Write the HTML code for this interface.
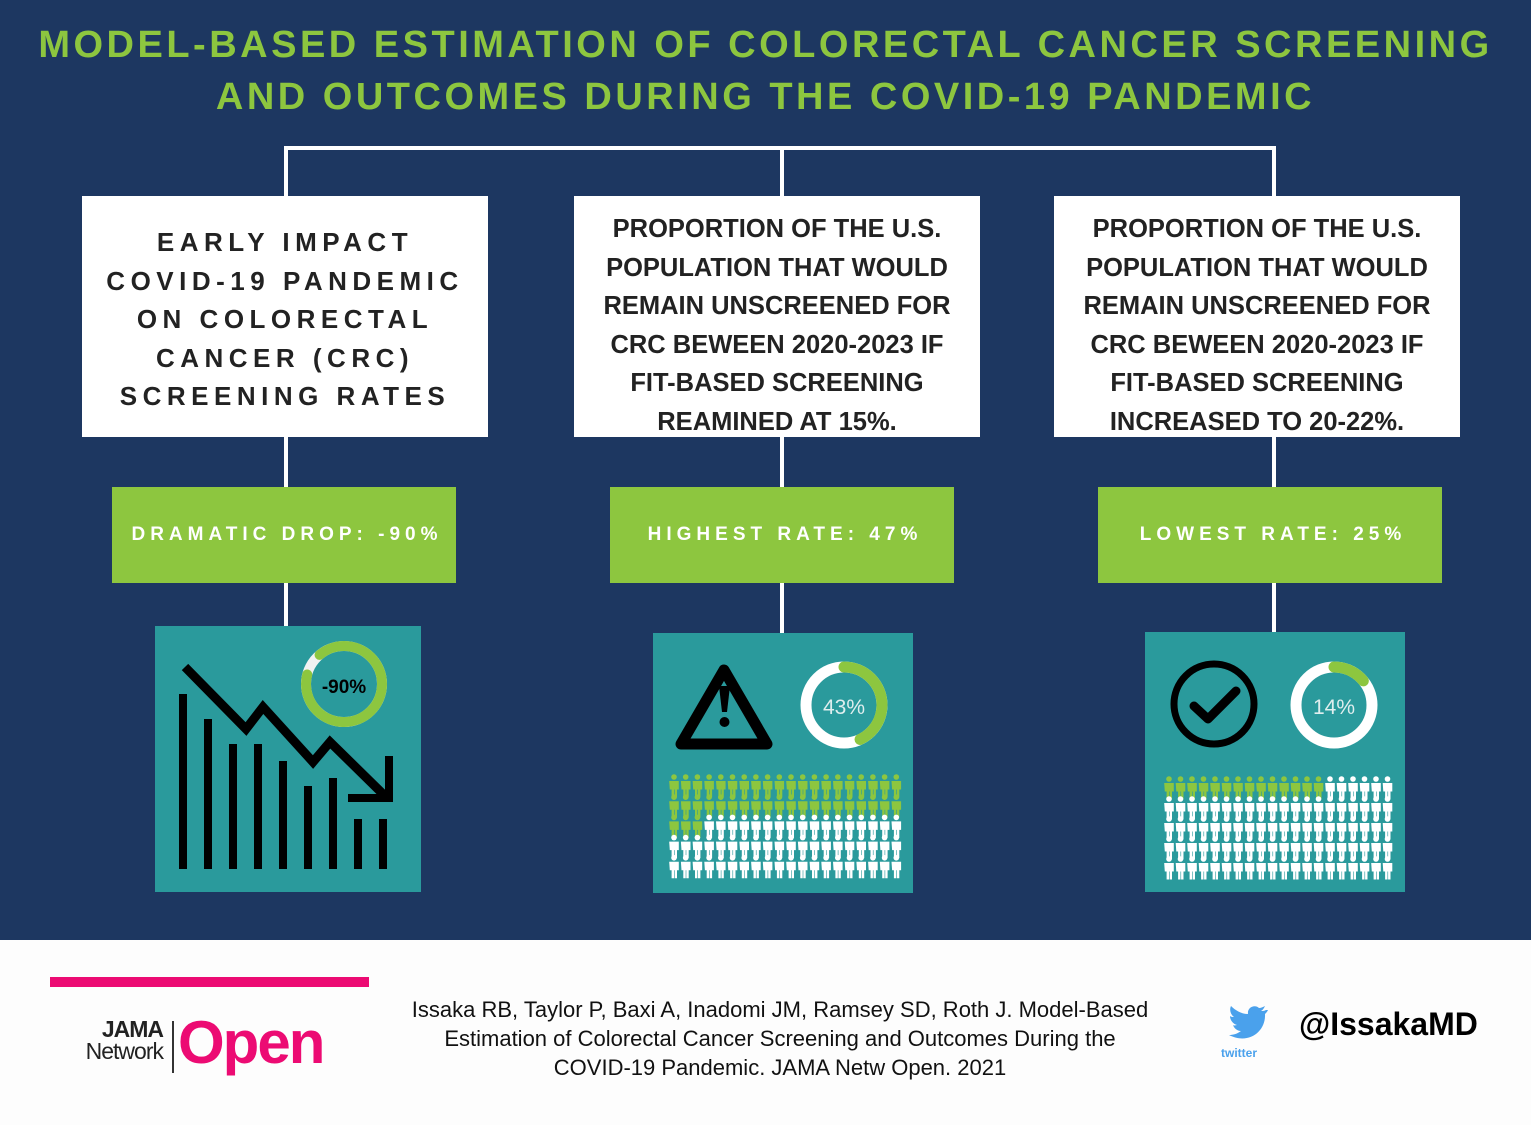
<!DOCTYPE html>
<html><head><meta charset="utf-8"><style>
body{margin:0;width:1531px;height:1125px;overflow:hidden;background:#1d3761;font-family:"Liberation Sans",sans-serif;position:relative}
.abs{position:absolute}
.title{left:0;width:1531px;text-align:center;color:#8dc63f;font-weight:bold;font-size:38px;letter-spacing:3.5px;line-height:52px;top:19px}
.line{background:#fff}
.wbox{background:#fff;color:#1d1d1d;text-align:center;display:flex;align-items:center;justify-content:center}
.gbox{background:#8dc63f;color:#fff;font-weight:bold;font-size:19px;letter-spacing:5px;display:flex;align-items:center;justify-content:center;padding-left:6px;box-sizing:border-box}
.panel{background:#2a9a9c}
.mbox{font-size:25.5px;font-weight:bold;line-height:38.5px;padding-top:14px;box-sizing:border-box;align-items:flex-start;color:#222}
</style></head><body>
<div class="abs title">MODEL-BASED ESTIMATION OF COLORECTAL CANCER SCREENING<br>AND OUTCOMES DURING THE COVID-19 PANDEMIC</div>

<div class="abs line" style="left:284px;top:146px;width:992px;height:4px"></div>
<div class="abs line" style="left:284px;top:146px;width:4px;height:480px"></div>
<div class="abs line" style="left:780px;top:146px;width:4px;height:487px"></div>
<div class="abs line" style="left:1272px;top:146px;width:4px;height:487px"></div>

<div class="abs wbox" style="left:82px;top:196px;width:406px;height:241px;font-size:26px;letter-spacing:5.5px;line-height:38.5px;font-weight:bold;color:#222;padding-top:6px;box-sizing:border-box"><div>EARLY IMPACT<br>COVID-19 PANDEMIC<br>ON COLORECTAL<br>CANCER (CRC)<br>SCREENING RATES</div></div>
<div class="abs wbox mbox" style="left:574px;top:196px;width:406px;height:241px"><div>PROPORTION OF THE U.S.<br>POPULATION THAT WOULD<br>REMAIN UNSCREENED FOR<br>CRC BEWEEN 2020-2023 IF<br>FIT-BASED SCREENING<br>REAMINED AT 15%.</div></div>
<div class="abs wbox mbox" style="left:1054px;top:196px;width:406px;height:241px"><div>PROPORTION OF THE U.S.<br>POPULATION THAT WOULD<br>REMAIN UNSCREENED FOR<br>CRC BEWEEN 2020-2023 IF<br>FIT-BASED SCREENING<br>INCREASED TO 20-22%.</div></div>

<div class="abs gbox" style="left:112px;top:487px;width:344px;height:96px">DRAMATIC DROP: -90%</div>
<div class="abs gbox" style="left:610px;top:487px;width:344px;height:96px">HIGHEST RATE: 47%</div>
<div class="abs gbox" style="left:1098px;top:487px;width:344px;height:96px">LOWEST RATE: 25%</div>

<div class="abs panel" style="left:155px;top:626px;width:266px;height:266px"></div>
<div class="abs panel" style="left:653px;top:633px;width:260px;height:260px"></div>
<div class="abs panel" style="left:1145px;top:632px;width:260px;height:260px"></div>

<svg class="abs" style="left:0;top:0" width="1531" height="940" id="icons">
<defs><g id="person"><circle cx="0" cy="-9" r="2.8"/><path d="M-4.8,-5 h9.6 v8.5 h-1.8 v8 h-2.4 v-8 h-0.6 v8 h-2.4 v-8 h-1.8z"/></g></defs>
<polyline points="185,667 246,729 263,707 313,762 330,742 385,796" fill="none" stroke="#000" stroke-width="9"/>
<polyline points="348,798 389,798 389,756" fill="none" stroke="#000" stroke-width="8"/>
<polygon points="724,670 767,744 681,744" fill="none" stroke="#000" stroke-width="11" stroke-linejoin="round"/>
<path d="M719,686 h11 l-3,26 h-5z" fill="#000"/><circle cx="724.5" cy="722" r="5" fill="#000"/>
<circle cx="1214" cy="704" r="40" fill="none" stroke="#000" stroke-width="7"/>
<polyline points="1194,706 1208,719 1236,691" fill="none" stroke="#000" stroke-width="9" stroke-linecap="round" stroke-linejoin="round"/>
<text x="344" y="693" text-anchor="middle" font-size="19" font-weight="bold" fill="#000">-90%</text>
<text x="844" y="714" text-anchor="middle" font-size="21" fill="#dfeeee">43%</text>
<text x="1334" y="714" text-anchor="middle" font-size="21" fill="#dfeeee">14%</text>
</svg>

<div class="abs" style="left:0;top:940px;width:1531px;height:185px;background:#fdfdfd"></div>
<div class="abs" style="left:50px;top:977px;width:319px;height:10px;background:#ec0b73"></div>
<div class="abs" style="left:69px;top:1018px;width:94px;text-align:right;font-size:23px;line-height:22px;color:#222;letter-spacing:-1px"><b>JAMA</b><br>Network</div>
<div class="abs" style="left:172px;top:1021px;width:2px;height:52px;background:#333"></div>
<div class="abs" style="left:178px;top:1008px;font-size:60px;font-weight:bold;color:#ec0b73;letter-spacing:-2px">Open</div>
<div class="abs" style="left:340px;top:995px;width:880px;text-align:center;font-size:22px;line-height:29px;color:#111">Issaka RB, Taylor P, Baxi A, Inadomi JM, Ramsey SD, Roth J. Model-Based<br>Estimation of Colorectal Cancer Screening and Outcomes During the<br>COVID-19 Pandemic. JAMA Netw Open. 2021</div>
<svg class="abs" style="left:1222px;top:1005px" width="46" height="40"><path d="M44,5 c-2,1-3,1-5,1 c2-1,3-3,4-5 c-2,1-4,2-6,2 c-4-4-12-1-11,6 c-7,0-13-4-17-8 c-2,4,0,9,3,11 c-1,0-3,0-4-1 c0,4,3,8,7,9 c-1,0-3,1-4,0 c1,3,4,6,8,6 c-4,3-8,4-12,4 c19,10,37-3,36-21 c1-1,2-2,3-4z" fill="#4aa1ec"/></svg>
<div class="abs" style="left:1221px;top:1046px;font-size:12px;font-weight:bold;color:#4aa1ec">twitter</div>
<div class="abs" style="left:1299px;top:1006px;font-size:32px;font-weight:bold;color:#000">@IssakaMD</div>

<script>
const barHeights = [175, 150, 125, 125, 108, 83, 91, 50, 50];
const donutValues = [90, 43, 14];
const peopleGreen = [43, 14];
const ns = 'http://www.w3.org/2000/svg';
const svg = document.getElementById('icons');
function mk(tag, attrs){const e=document.createElementNS(ns,tag);for(const k in attrs)e.setAttribute(k,attrs[k]);svg.insertBefore(e, svg.querySelector('text'));return e;}
const barBase = 869, barX0 = 179, barStep = 25;
barHeights.forEach((h,i)=>{
  const r = mk('rect',{x:barX0+i*barStep,y:barBase-h,width:8,height:h,fill:'#000'});
  
  
});
const donuts = [{cx:344,cy:684,r:38,w:10,bg:'#f2f2f2',start:-40},{cx:844,cy:705,r:38,w:11,bg:'#fff',start:0},{cx:1334,cy:705,r:38,w:11,bg:'#fff',start:0}];
donuts.forEach((d,i)=>{
  const c = mk('circle',{cx:d.cx,cy:d.cy,r:d.r,fill:'none',stroke:d.bg,'stroke-width':d.w});
  
  
  const circ = 2*Math.PI*d.r, frac = donutValues[i]/100;
  const a = mk('circle',{cx:d.cx,cy:d.cy,r:d.r,fill:'none',stroke:'#8dc63f','stroke-width':d.w,
    'stroke-dasharray':(circ*frac)+' '+circ,transform:'rotate('+(-90+d.start)+' '+d.cx+' '+d.cy+')','stroke-linecap':'round'});
  
  
});
const grids = [{x0:674,y0:786,dx:11.7,dy:20.2},{x0:1169,y0:788,dx:11.5,dy:20}];
grids.forEach((g,gi)=>{
  for(let k=0;k<100;k++){
    const col=k%20,row=Math.floor(k/20);
    const u = mk('use',{href:'#person',x:g.x0+col*g.dx,y:g.y0+row*g.dy,fill:k<peopleGreen[gi]?'#8dc63f':'#fff'});
    
    
  }
});
</script>
</body></html>
